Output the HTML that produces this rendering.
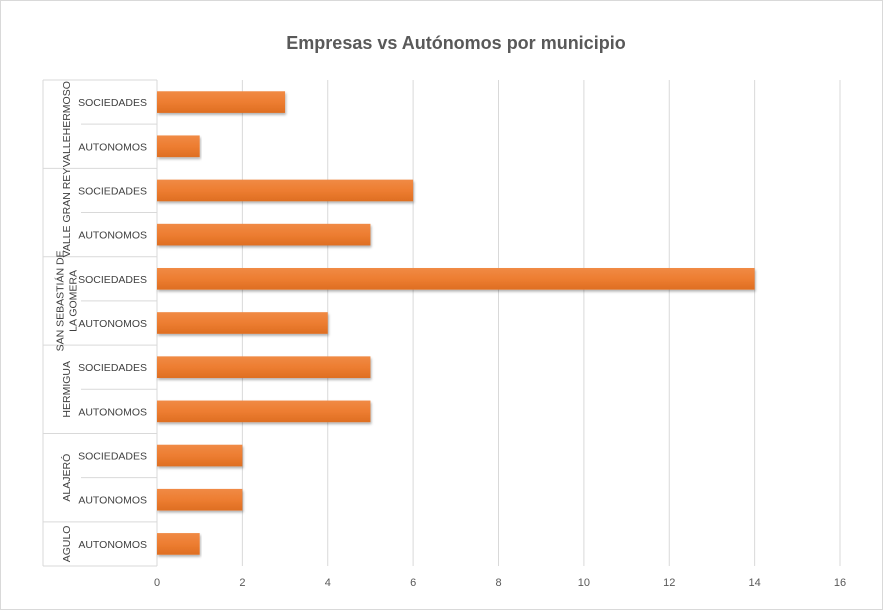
<!DOCTYPE html>
<html><head><meta charset="utf-8"><style>
html,body{margin:0;padding:0;background:#fff;}
svg{display:block;font-family:"Liberation Sans",sans-serif;}
</style></head><body>
<svg id="chart" width="883" height="611" xmlns="http://www.w3.org/2000/svg">
<defs>
<linearGradient id="bg" x1="0" y1="0" x2="0" y2="1">
<stop offset="0" stop-color="#F08A45"/><stop offset="0.5" stop-color="#ED7D31"/><stop offset="1" stop-color="#DE6E22"/>
</linearGradient>
<filter id="sh" x="-5%" y="-20%" width="110%" height="160%"><feDropShadow dx="1" dy="2" stdDeviation="1.2" flood-color="#000" flood-opacity="0.3"/></filter>
</defs>
<rect x="0.5" y="0.5" width="882" height="609" fill="#fff" stroke="#d9d9d9"/>
<text x="456" y="49" text-anchor="middle" font-size="18" font-weight="bold" fill="#595959">Empresas vs Autónomos por municipio</text>
<g id="grid"></g><g id="bars"></g><g id="labels"></g>
</svg>
<script>
const rowLabels = ["SOCIEDADES","AUTONOMOS","SOCIEDADES","AUTONOMOS","SOCIEDADES","AUTONOMOS","SOCIEDADES","AUTONOMOS","SOCIEDADES","AUTONOMOS","AUTONOMOS"];
const values = [3,1,6,5,14,4,5,5,2,2,1];
const groupNames = [["VALLEHERMOSO"],["VALLE GRAN REY"],["SAN SEBASTIÁN DE","LA GOMERA"],["HERMIGUA"],["ALAJERÓ"],["AGULO"]];
const groupSizes = [2,2,2,2,2,1];
const ticks = [0,2,4,6,8,10,12,14,16];

const NS="http://www.w3.org/2000/svg";
const x0=157,x1=840,xmax=16,yTop=80,yBot=566;
const rowH=(yBot-yTop)/values.length;
const xs=v=>x0+(x1-x0)*v/xmax;
const ys=i=>yTop+i*rowH;
function mk(tag,attrs,parent,text){const e=document.createElementNS(NS,tag);for(const k in attrs)e.setAttribute(k,attrs[k]);if(text!==undefined)e.textContent=text;parent.appendChild(e);return e;}
const grid=document.getElementById('grid'),bars=document.getElementById('bars'),labels=document.getElementById('labels');
ticks.forEach(t=>{
  if(t>0){const l=mk('line',{x1:xs(t),x2:xs(t),y1:yTop,y2:yBot,stroke:'#d9d9d9','stroke-width':1},grid);
  
  }
  const tx=mk('text',{x:xs(t),y:586,'text-anchor':'middle','font-size':11,fill:'#595959'},labels,String(t));
  
  
});
mk('line',{x1:x0,x2:x0,y1:yTop,y2:yBot,stroke:'#d9d9d9'},grid);
values.forEach((v,i)=>{
  const bh=rowH*0.49, y=ys(i)+(rowH-bh)/2;
  const r=mk('rect',{x:x0,y:y,width:xs(v)-x0,height:bh,fill:'url(#bg)',filter:'url(#sh)'},bars);
  
  
  const t=mk('text',{x:147,y:ys(i)+rowH/2+4,'text-anchor':'end','font-size':10.5,fill:'#404040'},labels,rowLabels[i]);
  
  
});
let idx=0;
mk('line',{x1:43,x2:x0,y1:yTop,y2:yTop,stroke:'#d9d9d9'},grid);
groupSizes.forEach((n,g)=>{
  const gy0=ys(idx), gy1=ys(idx+n);
  for(let k=1;k<n;k++) mk('line',{x1:81,x2:x0,y1:ys(idx+k),y2:ys(idx+k),stroke:'#d9d9d9'},grid);
  mk('line',{x1:43,x2:x0,y1:gy1,y2:gy1,stroke:'#d9d9d9'},grid);
  const cy=(gy0+gy1)/2, lines=groupNames[g];
  lines.forEach((ln,j)=>{
    const cx=66+(j-(lines.length-1)/2)*13;
    const t=mk('text',{x:cx,y:cy,'text-anchor':'middle','font-size':10.5,fill:'#404040',transform:`rotate(-90 ${cx} ${cy})`,dy:4},labels,ln);
    
    
  });
  idx+=n;
});
mk('line',{x1:43,x2:43,y1:yTop,y2:yBot,stroke:'#d9d9d9'},grid);
</script>
</body></html>
